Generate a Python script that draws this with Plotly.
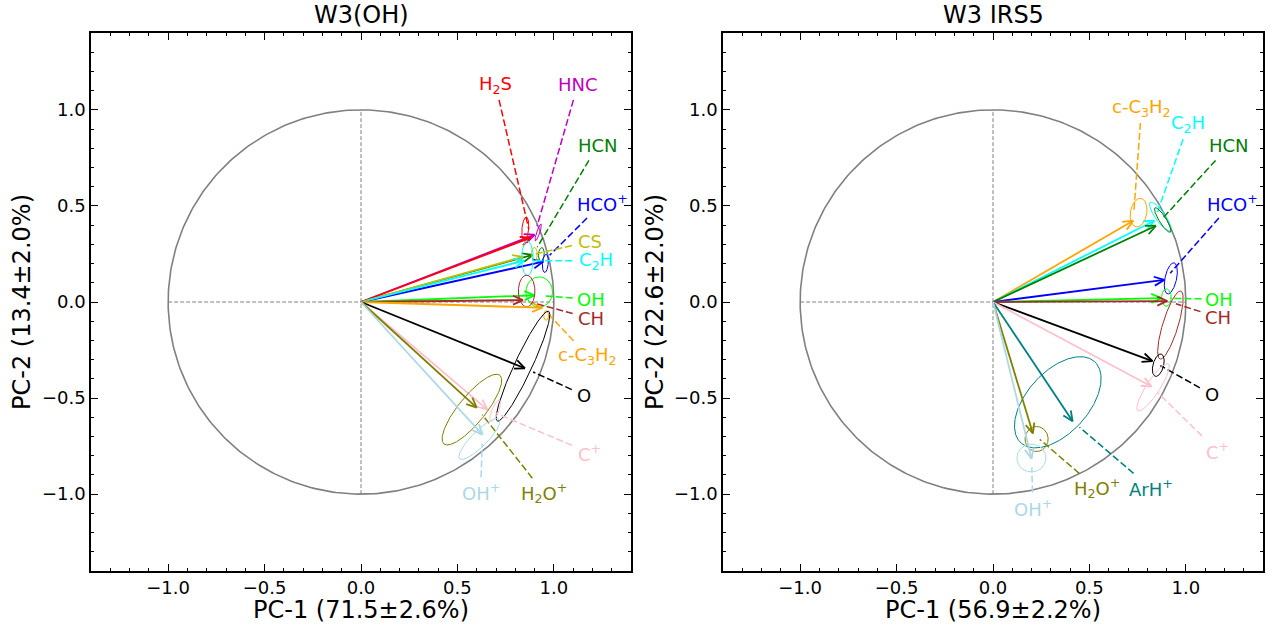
import numpy as np
import plotly.graph_objects as go

# ---------------- data: W3(OH) ----------------
sp1 = ["HNC", "H2S", "HCN", "HCO+", "CS", "C2H", "OH", "CH", "c-C3H2", "O", "C+", "H2O+", "OH+"]
pc1_1 = [0.90, 0.88, 0.89, 0.945, 0.84, 0.845, 0.90, 0.84, 0.94, 0.85, 0.655, 0.60, 0.63]
pc2_1 = [0.35, 0.335, 0.245, 0.21, 0.235, 0.215, 0.035, 0.01, -0.03, -0.345, -0.56, -0.55, -0.69]
# bootstrap ellipses (centre, major, minor, angle in deg)
ecx_1 = [0.919, 0.852, 0.935, 0.956, 0.899, 0.863, 0.924, 0.859, 0.96, 0.84, 0.696, 0.575, 0.614]
ecy_1 = [0.362, 0.38, 0.248, 0.201, 0.249, 0.227, 0.052, 0.057, -0.07, -0.334, -0.566, -0.56, -0.713]
emaj_1 = [0.093, 0.125, 0.07, 0.095, 0.07, 0.18, 0.157, 0.165, 0.05, 0.63, 0.118, 0.46, 0.29]
emin_1 = [0.016, 0.035, 0.03, 0.03, 0.03, 0.06, 0.138, 0.086, 0.025, 0.09, 0.036, 0.14, 0.08]
eang_1 = [71, 85, 85, 85, 90, 90, 90, 90, 90, 65, 68, 51, 45]
col_1 = ["#bf00bf", "#ff0000", "#008000", "#0000ff", "#bfbf00", "#00ffff", "#00ff00", "#a52a2a",
         "#ffa500", "#000000", "#ffc0cb", "#808000", "#add8e6"]
lab_1 = ["HNC", "H<sub>2</sub>S", "HCN", "HCO<sup>+</sup>", "CS", "C<sub>2</sub>H", "OH", "CH",
         "c-C<sub>3</sub>H<sub>2</sub>", "O", "C<sup>+</sup>", "H<sub>2</sub>O<sup>+</sup>", "OH<sup>+</sup>"]
nch_1 = [3, 3, 3, 4, 2, 3, 2, 2, 6, 1, 2, 4, 3]
# label placement (data coords)
lx_1 = [1.124, 0.698, 1.228, 1.25, 1.186, 1.216, 1.19, 1.19, 1.176, 1.157, 1.187, 0.95, 0.62]
ly_1 = [1.13, 1.13, 0.815, 0.515, 0.315, 0.215, 0.015, -0.085, -0.28, -0.485, -0.785, -0.995, -0.99]

# ---------------- data: W3 IRS5 ----------------
sp2 = ["c-C3H2", "C2H", "HCN", "HCO+", "OH", "CH", "O", "C+", "ArH+", "H2O+", "OH+"]
pc1_2 = [0.727, 0.837, 0.845, 0.888, 0.873, 0.904, 0.827, 0.822, 0.413, 0.207, 0.20]
pc2_2 = [0.423, 0.423, 0.397, 0.115, 0.02, 0.005, -0.308, -0.44, -0.621, -0.684, -0.815]
ecx_2 = [0.755, 0.867, 0.88, 0.922, 0.899, 0.92, 0.857, 0.83, 0.336, 0.226, 0.199]
ecy_2 = [0.465, 0.445, 0.427, 0.123, 0.023, -0.12, -0.329, -0.444, -0.522, -0.713, -0.812]
emaj_2 = [0.15, 0.18, 0.15, 0.165, 0.09, 0.37, 0.12, 0.29, 0.57, 0.13, 0.15]
emin_2 = [0.085, 0.05, 0.036, 0.06, 0.05, 0.08, 0.055, 0.07, 0.32, 0.12, 0.145]
eang_2 = [80, -55, -58, 78, 90, 73, 75, 57, 48, 90, 0]
col_2 = ["#ffa500", "#00ffff", "#008000", "#0000ff", "#00ff00", "#a52a2a", "#000000", "#ffc0cb",
         "#008080", "#808000", "#add8e6"]
lab_2 = ["c-C<sub>3</sub>H<sub>2</sub>", "C<sub>2</sub>H", "HCN", "HCO<sup>+</sup>", "OH", "CH", "O",
         "C<sup>+</sup>", "ArH<sup>+</sup>", "H<sub>2</sub>O<sup>+</sup>", "OH<sup>+</sup>"]
nch_2 = [6, 3, 3, 4, 2, 2, 1, 2, 4, 4, 3]
lx_2 = [0.77, 1.013, 1.225, 1.24, 1.173, 1.168, 1.137, 1.163, 0.82, 0.537, 0.207]
ly_2 = [1.01, 0.925, 0.815, 0.515, 0.015, -0.08, -0.483, -0.775, -0.97, -0.97, -1.07]

titles = ["W3(OH)", "W3 IRS5"]
xtitles = ["PC-1 (71.5±2.6%)", "PC-1 (56.9±2.2%)"]
ytitles = ["PC-2 (13.4±2.0%)", "PC-2 (22.6±2.0%)"]
tickvals = [-1.0, -0.5, 0.0, 0.5, 1.0]
ticktext = ["\u22121.0", "\u22120.5", "0.0", "0.5", "1.0"]

# ---------------- layout geometry ----------------
W, H = 1275, 633
RNG = 1.4
xdom = [[91 / W, 631 / W], [723 / W, 1263 / W]]
ydom = [1 - 571 / H, 1 - 33 / H]
SX = 540 / (2 * RNG)
SY = 538 / (2 * RNG)

fig = go.Figure()


def add_line(xs, ys, color, width, ax, dash=None):
    fig.add_trace(go.Scatter(x=xs, y=ys, mode="lines", xaxis=ax[0], yaxis=ax[1],
                             line=dict(color=color, width=width, dash=dash),
                             hoverinfo="skip", showlegend=False))


def panel(k, px, py, ecx, ecy, emaj, emin, eang, cols, labs, nch, lx, ly):
    ax = ("x" if k == 0 else "x2", "y" if k == 0 else "y2")
    # reference circle and dashed axes
    t = np.linspace(0, 2 * np.pi, 400)
    add_line(np.cos(t), np.sin(t), "#808080", 1.6, ax)
    add_line([-1, 1], [0, 0], "#808080", 1.0, ax, dash="4px,2px")
    add_line([0, 0], [-1, 1], "#808080", 1.0, ax, dash="4px,2px")
    for i in range(len(px)):
        c = cols[i]
        # ellipse
        a = np.deg2rad(eang[i])
        ex = ecx[i] + emaj[i] / 2 * np.cos(t) * np.cos(a) - emin[i] / 2 * np.sin(t) * np.sin(a)
        ey = ecy[i] + emaj[i] / 2 * np.cos(t) * np.sin(a) + emin[i] / 2 * np.sin(t) * np.cos(a)
        add_line(ex, ey, c, 1.0, ax)
        # arrow: shaft + open head computed in pixel space
        dx, dy = px[i] * SX, py[i] * SY
        L = np.hypot(dx, dy)
        ux, uy = dx / L, dy / L
        hl, ha = 11.0, np.deg2rad(24)
        hx, hy = [], []
        for s in (1, -1):
            ca, sa = np.cos(s * ha), np.sin(s * ha)
            rx, ry = ux * ca - uy * sa, ux * sa + uy * ca
            hx += [px[i] - hl * rx / SX, px[i], None]
            hy += [py[i] - hl * ry / SY, py[i], None]
        add_line([0, px[i], None] + hx, [0, py[i], None] + hy, c, 1.8, ax)
        # leader line from label box edge to arrow tip
        ddx, ddy = (px[i] - lx[i]) * SX, (py[i] - ly[i]) * SY
        D = np.hypot(ddx, ddy)
        hw, hh = nch[i] * 5.4 + 7, 15
        tx = hw / abs(ddx) if ddx != 0 else np.inf
        ty = hh / abs(ddy) if ddy != 0 else np.inf
        t0 = min(tx, ty)
        t1 = 1 - 9 / D
        add_line([lx[i] + ddx * t0 / SX, lx[i] + ddx * t1 / SX],
                 [ly[i] + ddy * t0 / SY, ly[i] + ddy * t1 / SY], c, 1.5, ax, dash="7px,3px")
        fig.add_annotation(x=lx[i], y=ly[i], xref=ax[0], yref=ax[1], text=labs[i], showarrow=False,
                           font=dict(family="DejaVu Sans", size=18, color=c),
                           xanchor="center", yanchor="middle")


panel(0, pc1_1, pc2_1, ecx_1, ecy_1, emaj_1, emin_1, eang_1, col_1, lab_1, nch_1, lx_1, ly_1)
panel(1, pc1_2, pc2_2, ecx_2, ecy_2, emaj_2, emin_2, eang_2, col_2, lab_2, nch_2, lx_2, ly_2)

minor_vals = [round(v, 1) for v in np.arange(-1.4, 1.41, 0.1)]
axis_common = dict(range=[-RNG, RNG], tickvals=tickvals, ticktext=ticktext, ticks="inside",
                   ticklen=7, tickwidth=1.2, tickcolor="black", showline=True, linecolor="black",
                   linewidth=1.5, mirror="allticks", showgrid=False, zeroline=False,
                   tickfont=dict(family="DejaVu Sans", size=18, color="black"),
                   minor=dict(tickvals=minor_vals, ticks="inside", ticklen=3.5, tickwidth=1,
                              tickcolor="black", showgrid=False))

fig.update_layout(
    width=W, height=H, margin=dict(l=0, r=0, t=0, b=0),
    paper_bgcolor="white", plot_bgcolor="white",
    xaxis=dict(domain=xdom[0], anchor="y", **axis_common),
    yaxis=dict(domain=ydom, anchor="x", **axis_common),
    xaxis2=dict(domain=xdom[1], anchor="y2", **axis_common),
    yaxis2=dict(domain=ydom, anchor="x2", **axis_common),
)

for k in range(2):
    cx = (xdom[k][0] + xdom[k][1]) / 2
    fig.add_annotation(x=cx, y=1 - 15 / H, xref="paper", yref="paper", text=titles[k], showarrow=False,
                       font=dict(family="DejaVu Sans", size=24, color="black"),
                       xanchor="center", yanchor="middle")
    fig.add_annotation(x=cx, y=1 - 610 / H, xref="paper", yref="paper", text=xtitles[k], showarrow=False,
                       font=dict(family="DejaVu Sans", size=24, color="black"),
                       xanchor="center", yanchor="middle")
    fig.add_annotation(x=(22 if k == 0 else 655) / W, y=1 - 302 / H, xref="paper", yref="paper",
                       text=ytitles[k], showarrow=False, textangle=-90,
                       font=dict(family="DejaVu Sans", size=24, color="black"),
                       xanchor="center", yanchor="middle")

fig.write_html("out.html")
